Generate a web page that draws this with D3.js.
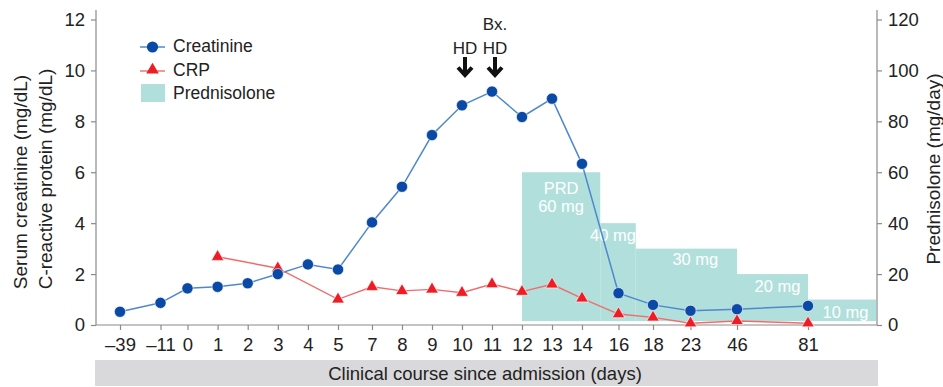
<!DOCTYPE html>
<html>
<head>
<meta charset="utf-8">
<script src="https://cdn.jsdelivr.net/npm/d3@7"></script>
<style>
  html, body { margin: 0; padding: 0; background: #fff; }
  svg { display: block; font-family: "Liberation Sans", Arial, Helvetica, sans-serif; }
</style>
</head>
<body>
<svg id="chart" width="943" height="387"></svg>
<script>
// ---- data ----
const days = [-39, -11, 0, 1, 2, 3, 4, 5, 7, 8, 9, 10, 11, 12, 13, 14, 16, 18, 23, 46, 81];
const creatinine = [0.52, 0.87, 1.44, 1.5, 1.64, 2.0, 2.38, 2.18, 4.03, 5.43, 7.46, 8.63, 9.17, 8.17, 8.89, 6.33, 1.25, 0.79, 0.56, 0.62, 0.75];
const crpDays = [1, 3, 5, 7, 8, 9, 10, 11, 12, 13, 14, 16, 18, 23, 46, 81];
const crp = [2.68, 2.23, 1.01, 1.5, 1.34, 1.4, 1.27, 1.61, 1.31, 1.6, 1.05, 0.43, 0.3, 0.07, 0.16, 0.07];
const prdStart = [12, 15, 17, 46, 81];
const prdEnd = [15, 17, 46, 81, null];   // null = continues past the end
const prdDose = [60, 40, 30, 20, 10];
const prdLabels = [["PRD", "60 mg"], ["40 mg"], ["30 mg"], ["20 mg"], ["10 mg"]];
const leftTicks = [0, 2, 4, 6, 8, 10, 12];
const rightTicks = [0, 20, 40, 60, 80, 100, 120];
const annotations = [{ day: 10, lines: ["HD"] }, { day: 11, lines: ["Bx.", "HD"] }];

(function () {
// ---- layout ----
const svg = d3.select("#chart");
const pLeft = 96, pRight = 877, pTop = 19.5, pBottom = 325;
const blue = "#0a4aa6", blueLine = "#4f88cc", red = "#ee1c25", redLine = "#f26b6b", teal = "#b1dfdb", axisCol = "#8a8a8a";
const fs = 18.5;

// non-uniform (broken) day axis: piecewise-linear scale
const x = d3.scaleLinear()
  .domain([-39, -11, 0, 5, 7, 14, 16, 18, 23, 46, 81, 110])
  .range([120, 160.5, 187.5, 338, 372, 582, 618.5, 653, 690.5, 737, 808, pRight]);
const yL = d3.scaleLinear().domain([0, 12]).range([pBottom, pTop]);
const yR = d3.scaleLinear().domain([0, 120]).range([pBottom, pTop]);

// ---- prednisolone bars ----
const bars = prdDose.map((d, i) => ({ s: prdStart[i], e: prdEnd[i], v: d, lab: prdLabels[i] }));
svg.append("g").selectAll("rect").data(bars).join("rect")
  .attr("x", d => x(d.s))
  .attr("width", d => (d.e === null ? pRight - 1 : x(d.e)) - x(d.s))
  .attr("y", d => yR(d.v))
  .attr("height", d => yR(1.5) - yR(d.v))
  .attr("fill", teal);

const labDy = [22, 18, 16, 18, 18];
const labDx = [0, -5, 9, 5, 3];
const labG = svg.append("g").attr("fill", "#fff").attr("font-size", 16.5).attr("text-anchor", "middle");
bars.forEach((b, i) => {
  const xe = b.e === null ? pRight : x(b.e);
  const cx = (x(b.s) + xe) / 2 + labDx[i];
  b.lab.forEach((t, j) => {
    labG.append("text").attr("x", cx).attr("y", yR(b.v) + labDy[i] + j * 18).text(t);
  });
});

// ---- axes ----
const la = svg.append("g").attr("transform", `translate(${pLeft},0)`)
  .call(d3.axisLeft(yL).tickValues(leftTicks).tickSize(5).tickPadding(6));
la.select(".domain").attr("d", `M0,10V${pBottom}`);
const ra = svg.append("g").attr("transform", `translate(${pRight},0)`)
  .call(d3.axisRight(yR).tickValues(rightTicks).tickSize(5).tickPadding(6));
ra.select(".domain").attr("d", `M0,10V${pBottom}`);
const ba = svg.append("g").attr("transform", `translate(0,${pBottom})`)
  .call(d3.axisBottom(x).tickValues(days).tickSize(5).tickPadding(8)
    .tickFormat(d => d < 0 ? "\u2013" + Math.abs(d) : d));
ba.select(".domain").attr("d", `M${pLeft},0H${pRight}`);
[la, ra, ba].forEach(g => {
  g.selectAll(".domain, .tick line").attr("stroke", axisCol).attr("stroke-width", 1.2);
  g.selectAll(".tick text").attr("font-size", fs).attr("fill", "#222")
    .attr("font-family", "'Liberation Sans', Arial, sans-serif");
});

// axis titles
svg.append("text").attr("transform", `translate(27,182) rotate(-90)`).attr("text-anchor", "middle")
  .attr("font-size", 19).attr("fill", "#222").text("Serum creatinine (mg/dL)");
svg.append("text").attr("transform", `translate(52,179) rotate(-90)`).attr("text-anchor", "middle")
  .attr("font-size", 19).attr("fill", "#222").text("C-reactive protein (mg/dL)");
svg.append("text").attr("transform", `translate(940,169) rotate(-90)`).attr("text-anchor", "middle")
  .attr("font-size", 19).attr("fill", "#222").text("Prednisolone (mg/day)");

// x title band
svg.append("rect").attr("x", 95).attr("y", 360).attr("width", 783).attr("height", 26).attr("fill", "#d9d9db");
svg.append("text").attr("x", 485).attr("y", 380).attr("text-anchor", "middle")
  .attr("font-size", fs).attr("fill", "#222").text("Clinical course since admission (days)");

// ---- lines ----
const crData = days.map((d, i) => ({ d, v: creatinine[i] }));
const crpData = crpDays.map((d, i) => ({ d, v: crp[i] }));
const line = d3.line().x(p => x(p.d)).y(p => yL(p.v));

svg.append("path").datum(crpData).attr("d", line).attr("fill", "none")
  .attr("stroke", redLine).attr("stroke-width", 1.4);
svg.append("path").datum(crData).attr("d", line).attr("fill", "none")
  .attr("stroke", blueLine).attr("stroke-width", 1.5);

const tri = d3.symbol().type(d3.symbolTriangle).size(68);
svg.append("g").selectAll("path").data(crpData).join("path")
  .attr("transform", p => `translate(${x(p.d)},${yL(p.v)})`)
  .attr("d", tri).attr("fill", red).attr("stroke", "#fff").attr("stroke-width", 0.6);
svg.append("g").selectAll("circle").data(crData).join("circle")
  .attr("cx", p => x(p.d)).attr("cy", p => yL(p.v)).attr("r", 5.6)
  .attr("fill", blue).attr("stroke", "#fff").attr("stroke-width", 0.6);

// ---- annotations (HD / Bx. arrows) ----
annotations.forEach(a => {
  const cx = x(a.day) + 3;
  a.lines.forEach((t, j) => {
    svg.append("text").attr("x", cx).attr("y", 54 - (a.lines.length - 1 - j) * 24)
      .attr("text-anchor", "middle").attr("font-size", 17).attr("fill", "#222").text(t);
  });
  svg.append("path")
    .attr("d", `M${cx},57V75 M${cx - 7},67.5L${cx},75L${cx + 7},67.5`)
    .attr("fill", "none").attr("stroke", "#111").attr("stroke-width", 4)
    .attr("stroke-linecap", "butt").attr("stroke-linejoin", "miter");
});

// ---- legend ----
const lg = svg.append("g").attr("font-size", 17.5).attr("fill", "#222");
lg.append("line").attr("x1", 140).attr("x2", 165).attr("y1", 47).attr("y2", 47).attr("stroke", blueLine).attr("stroke-width", 1.5);
lg.append("circle").attr("cx", 152.5).attr("cy", 47).attr("r", 5.6).attr("fill", blue);
lg.append("text").attr("x", 173).attr("y", 52).text("Creatinine");
lg.append("line").attr("x1", 140).attr("x2", 165).attr("y1", 71).attr("y2", 71).attr("stroke", redLine).attr("stroke-width", 1.4);
lg.append("path").attr("transform", "translate(152.5,70)").attr("d", tri).attr("fill", red);
lg.append("text").attr("x", 173).attr("y", 76).text("CRP");
lg.append("rect").attr("x", 141).attr("y", 84).attr("width", 24).attr("height", 18).attr("fill", teal);
lg.append("text").attr("x", 173).attr("y", 99).text("Prednisolone");
})();
</script>
</body>
</html>
